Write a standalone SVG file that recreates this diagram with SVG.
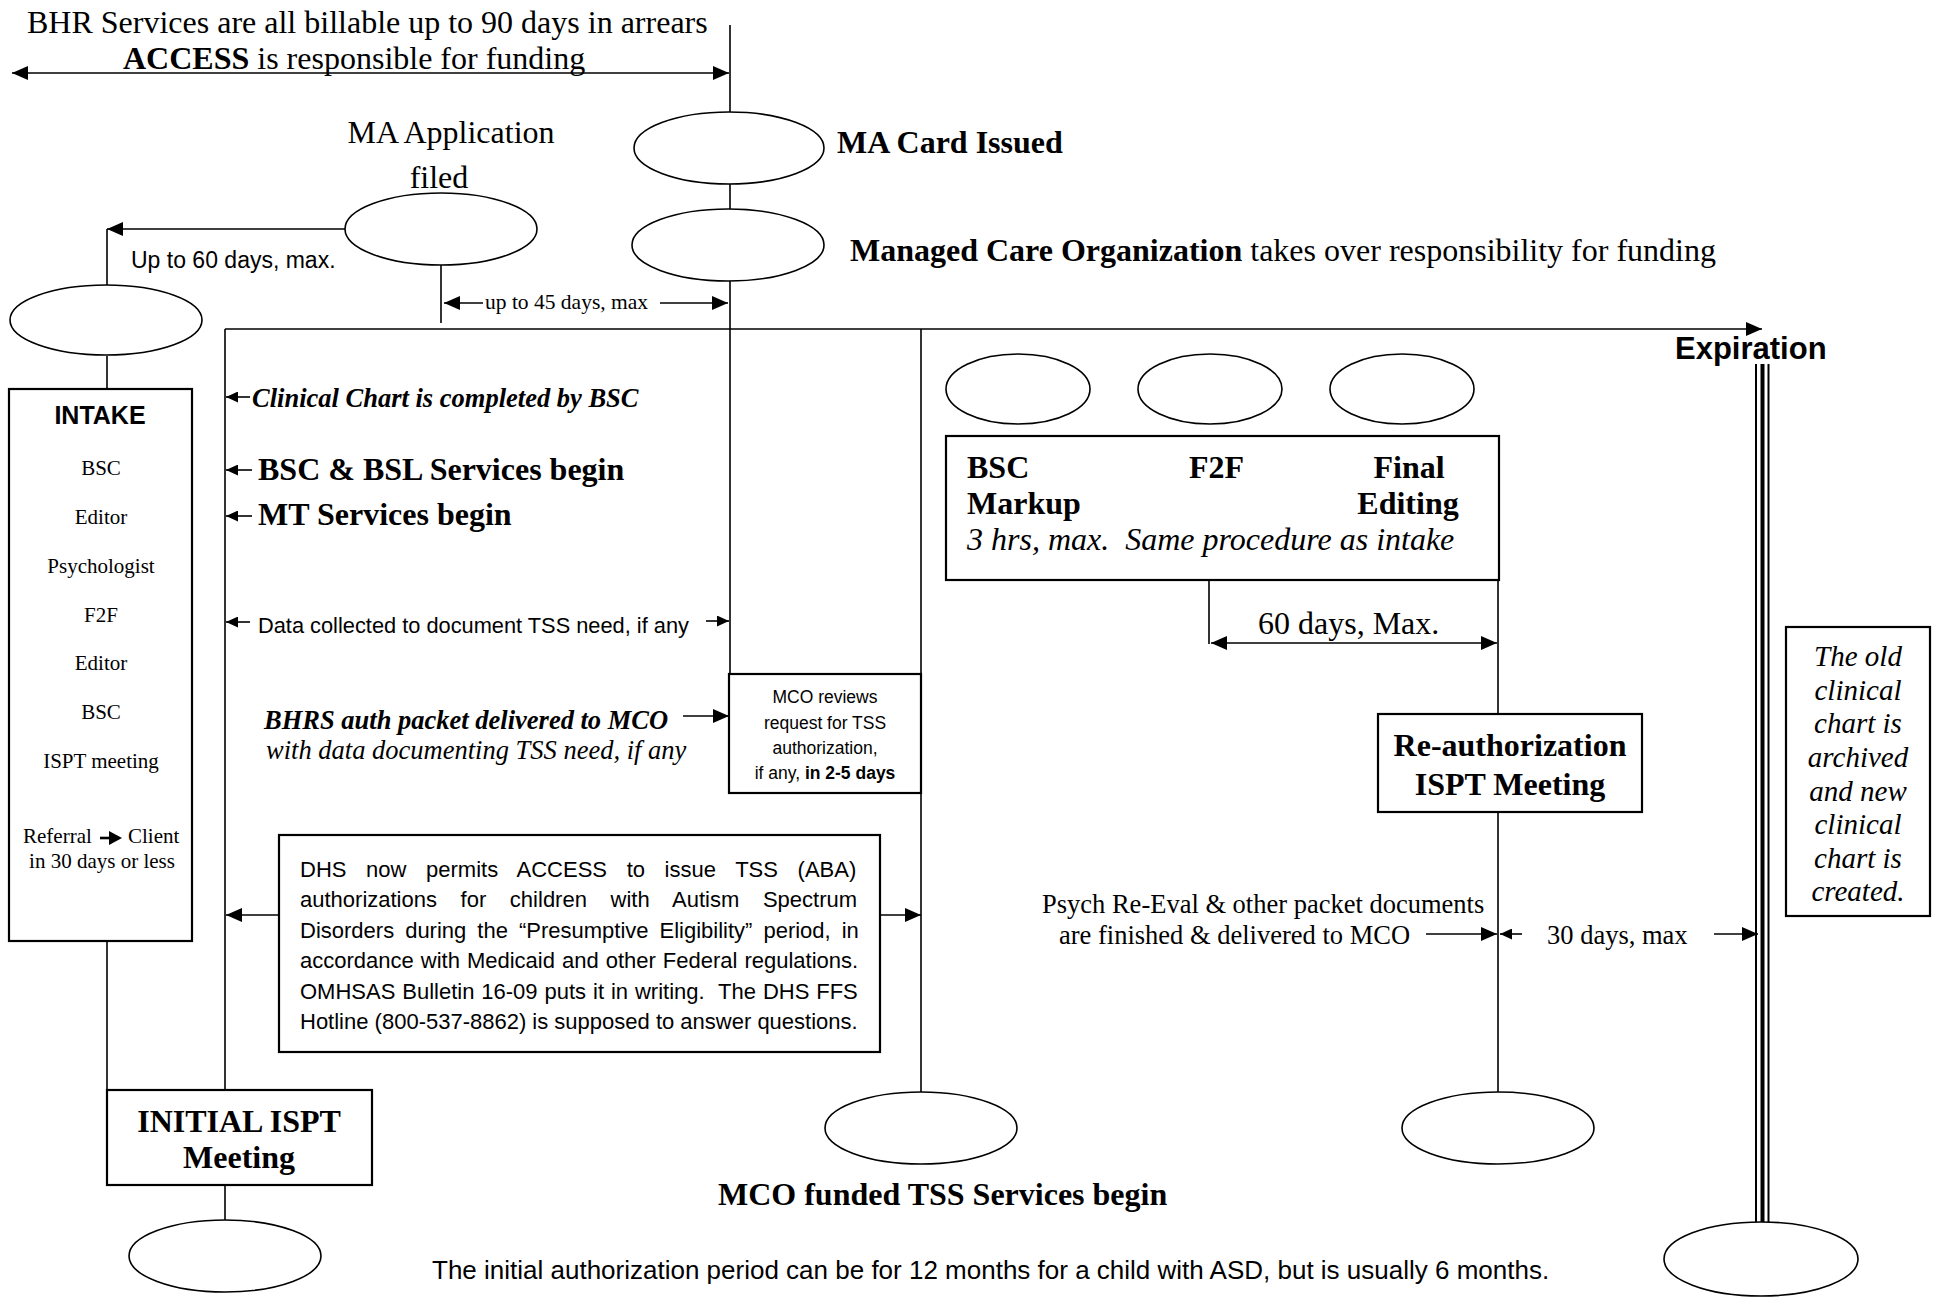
<svg xmlns="http://www.w3.org/2000/svg" width="1939" height="1297" viewBox="0 0 1939 1297">
<style>
.serif{font-family:'Liberation Serif','Times New Roman',serif;fill:#000}
.sans{font-family:'Liberation Sans',Arial,sans-serif;fill:#000}
.b{font-weight:bold}
.i{font-style:italic}
.big{font-size:32px}
.mid{font-size:26.5px}
.ln{stroke:#000;stroke-width:1.6;fill:none}
.box{stroke:#000;stroke-width:2.2;fill:#fff}
.ell{stroke:#000;stroke-width:1.6;fill:#fff}
.c{text-anchor:middle}
</style>
<defs>
<marker id="ah" markerUnits="userSpaceOnUse" markerWidth="17" markerHeight="14" refX="16" refY="7" orient="auto-start-reverse"><path d="M0,0 L16,7 L0,14 z" fill="#000"/></marker>
<marker id="as" markerUnits="userSpaceOnUse" markerWidth="13" markerHeight="11" refX="12" refY="5.5" orient="auto-start-reverse"><path d="M0,0 L12,5.5 L0,11 z" fill="#000"/></marker>
</defs>
<rect width="1939" height="1297" fill="#fff"/>

<g id="connectors">
<line class="ln" x1="12" y1="73" x2="729" y2="73" stroke-width="2.4" marker-start="url(#ah)" marker-end="url(#ah)"/>
<line class="ln" x1="730" y1="25" x2="730" y2="674"/>
<line class="ln" x1="345" y1="229" x2="107" y2="229" marker-end="url(#ah)"/>
<line class="ln" x1="107" y1="229" x2="107" y2="285"/>
<line class="ln" x1="107" y1="356" x2="107" y2="389"/>
<line class="ln" x1="107" y1="941" x2="107" y2="1090"/>
<line class="ln" x1="441" y1="265" x2="441" y2="323"/>
<line class="ln" x1="483" y1="303" x2="444" y2="303" marker-end="url(#ah)"/>
<line class="ln" x1="660" y1="303" x2="728" y2="303" marker-end="url(#ah)"/>
<line class="ln" x1="225" y1="329" x2="1762" y2="329" marker-end="url(#ah)"/>
<line class="ln" x1="225" y1="329" x2="225" y2="1090"/>
<line class="ln" x1="225" y1="1185" x2="225" y2="1220"/>
<line class="ln" x1="921" y1="329" x2="921" y2="1092"/>
<line class="ln" x1="250" y1="397" x2="226" y2="397" marker-end="url(#as)"/>
<line class="ln" x1="252" y1="470" x2="226" y2="470" marker-end="url(#as)"/>
<line class="ln" x1="252" y1="516" x2="226" y2="516" marker-end="url(#as)"/>
<line class="ln" x1="250" y1="622" x2="226" y2="622" marker-end="url(#as)"/>
<line class="ln" x1="706" y1="621" x2="729" y2="621" marker-end="url(#as)"/>
<line class="ln" x1="683" y1="716" x2="729" y2="716" stroke-width="2" marker-end="url(#ah)"/>
<line class="ln" x1="279" y1="915" x2="226" y2="915" stroke-width="2" marker-end="url(#ah)"/>
<line class="ln" x1="880" y1="915" x2="921" y2="915" stroke-width="2" marker-end="url(#ah)"/>
<line class="ln" x1="1209" y1="580" x2="1209" y2="644"/>
<line class="ln" x1="1211" y1="643" x2="1497" y2="643" stroke-width="2.2" marker-start="url(#ah)" marker-end="url(#ah)"/>
<line class="ln" x1="1498" y1="580" x2="1498" y2="714"/>
<line class="ln" x1="1498" y1="812" x2="1498" y2="1092"/>
<line class="ln" x1="1426" y1="934" x2="1497" y2="934" stroke-width="2" marker-end="url(#ah)"/>
<line class="ln" x1="1522" y1="934" x2="1500" y2="934" stroke-width="2" marker-end="url(#as)"/>
<line class="ln" x1="1714" y1="934" x2="1758" y2="934" stroke-width="2" marker-end="url(#ah)"/>
<line x1="1756" y1="364" x2="1756" y2="1223" stroke="#000" stroke-width="2"/>
<line x1="1762.5" y1="364" x2="1762.5" y2="1223" stroke="#000" stroke-width="4"/>
<line x1="1768.5" y1="364" x2="1768.5" y2="1223" stroke="#000" stroke-width="2"/>
</g>

<g id="header">
<text class="serif big" x="27" y="33">BHR Services are all billable up to 90 days in arrears</text>
<text class="serif big" x="123" y="69"><tspan class="b">ACCESS</tspan> is responsible for funding</text>
</g>

<g id="ma-card"><ellipse class="ell" cx="729" cy="148" rx="95" ry="36"/>
<text class="serif big b" x="837" y="153">MA Card Issued</text></g>

<g id="mco"><ellipse class="ell" cx="728" cy="245" rx="96" ry="36"/>
<text class="serif big" x="850" y="261"><tspan class="b">Managed Care Organization</tspan> takes over responsibility for funding</text></g>

<g id="ma-application"><ellipse class="ell" cx="441" cy="229" rx="96" ry="36"/>
<text class="serif big c" x="451" y="143">MA Application</text>
<text class="serif big c" x="439" y="188">filed</text></g>

<g id="labels-top">
<text class="sans" font-size="23" x="131" y="268">Up to 60 days, max.</text>
<text class="serif" font-size="21.5" x="485" y="309">up to 45 days, max</text>
<text class="sans b" font-size="31" x="1675" y="359">Expiration</text>
</g>

<g id="start"><ellipse class="ell" cx="106" cy="320" rx="96" ry="35"/></g>

<g id="intake">
<rect class="box" x="9" y="389" width="183" height="552"/>
<text class="sans b c" font-size="25" x="100" y="424">INTAKE</text>
<g class="serif c" font-size="21">
<text x="101" y="475">BSC</text>
<text x="101" y="524">Editor</text>
<text x="101" y="573">Psychologist</text>
<text x="101" y="622">F2F</text>
<text x="101" y="670">Editor</text>
<text x="101" y="719">BSC</text>
<text x="101" y="768">ISPT meeting</text>
</g>
<text class="serif" font-size="21" x="23" y="843">Referral</text>
<line x1="100" y1="838" x2="111" y2="838" stroke="#000" stroke-width="2.6"/>
<path d="M109,831 L122,838 L109,845 z" fill="#000"/>
<text class="serif" font-size="21" x="128" y="843">Client</text>
<text class="serif c" font-size="21" x="102" y="868">in 30 days or less</text>
</g>

<g id="clinical-notes">
<text class="serif b i mid" x="252" y="407">Clinical Chart is completed by BSC</text>
<text class="serif b big" x="258" y="480">BSC &amp; BSL Services begin</text>
<text class="serif b big" x="258" y="525">MT Services begin</text>
<text class="sans" font-size="21.8" x="258" y="633">Data collected to document TSS need, if any</text>
<text class="serif b i mid" x="264" y="729">BHRS auth packet delivered to MCO</text>
<text class="serif i mid" x="266" y="759">with data documenting TSS need, if any</text>
</g>

<g id="mco-reviews">
<rect class="box" x="729" y="674" width="192" height="119"/>
<g class="sans c" font-size="17.5">
<text x="825" y="703">MCO reviews</text>
<text x="825" y="729">request for TSS</text>
<text x="825" y="754">authorization,</text>
<text x="825" y="779">if any, <tspan class="b">in 2-5 days</tspan></text>
</g>
</g>

<g id="dhs-note">
<rect class="box" x="279" y="835" width="601" height="217"/>
<g class="sans" font-size="22">
<text x="300" y="877" word-spacing="13.5">DHS now permits ACCESS to issue TSS (ABA)</text>
<text x="300" y="907" word-spacing="17.5">authorizations for children with Autism Spectrum</text>
<text x="300" y="938" word-spacing="4.9">Disorders during the “Presumptive Eligibility” period, in</text>
<text x="300" y="968" word-spacing="0.9">accordance with Medicaid and other Federal regulations.</text>
<text x="300" y="999" word-spacing="0.8">OMHSAS Bulletin 16-09 puts it in writing.&#160; The DHS FFS</text>
<text x="300" y="1029">Hotline (800-537-8862) is supposed to answer questions.</text>
</g>
</g>

<g id="initial-ispt">
<rect class="box" x="107" y="1090" width="265" height="95"/>
<text class="serif b big c" x="239" y="1132">INITIAL ISPT</text>
<text class="serif b big c" x="239" y="1168">Meeting</text>
</g>
<g id="initial-end"><ellipse class="ell" cx="225" cy="1256" rx="96" ry="36"/></g>

<g id="tss-begin"><ellipse class="ell" cx="921" cy="1128" rx="96" ry="36"/>
<text class="serif b big" x="718" y="1205">MCO funded TSS Services begin</text></g>

<g id="update-ellipses">
<ellipse class="ell" cx="1018" cy="389" rx="72" ry="35"/>
<ellipse class="ell" cx="1210" cy="389" rx="72" ry="35"/>
<ellipse class="ell" cx="1402" cy="389" rx="72" ry="35"/>
</g>

<g id="update-box">
<rect class="box" x="946" y="436" width="553" height="144"/>
<text class="serif b big" x="967" y="478">BSC</text>
<text class="serif b big" x="967" y="514">Markup</text>
<text class="serif b big" x="1189" y="478">F2F</text>
<text class="serif b big c" x="1409" y="478">Final</text>
<text class="serif b big c" x="1408" y="514">Editing</text>
<text class="serif i big" x="967" y="550">3 hrs, max.&#160; Same procedure as intake</text>
</g>

<text class="serif big" x="1258" y="634">60 days, Max.</text>

<g id="reauth">
<rect class="box" x="1378" y="714" width="264" height="98"/>
<text class="serif b big c" x="1510" y="756">Re-authorization</text>
<text class="serif b big c" x="1510" y="795">ISPT Meeting</text>
</g>
<g id="reauth-end"><ellipse class="ell" cx="1498" cy="1128" rx="96" ry="36"/></g>

<g id="psych-note" class="serif" font-size="26.5">
<text x="1042" y="913">Psych Re-Eval &amp; other packet documents</text>
<text x="1059" y="944">are finished &amp; delivered to MCO</text>
<text x="1547" y="944">30 days, max</text>
</g>

<g id="archive">
<rect class="box" x="1786" y="627" width="144" height="289"/>
<g class="serif i c" font-size="29">
<text x="1858" y="666">The old</text>
<text x="1858" y="700">clinical</text>
<text x="1858" y="733">chart is</text>
<text x="1858" y="767">archived</text>
<text x="1858" y="801">and new</text>
<text x="1858" y="834">clinical</text>
<text x="1858" y="868">chart is</text>
<text x="1858" y="901">created.</text>
</g>
</g>

<g id="expiration-end"><ellipse class="ell" cx="1761" cy="1259" rx="97" ry="37"/></g>

<text class="sans" font-size="26" x="432" y="1279">The initial authorization period can be for 12 months for a child with ASD, but is usually 6 months.</text>
</svg>
